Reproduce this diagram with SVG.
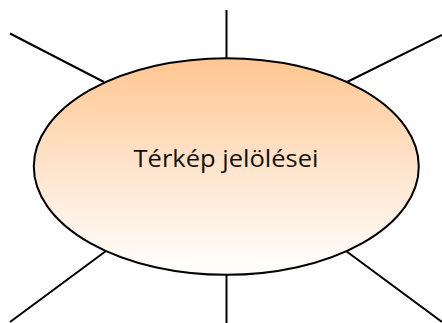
<svg xmlns="http://www.w3.org/2000/svg" width="442" height="323" viewBox="0 0 442 323">
<style>
.ln{stroke:#000;stroke-width:2;fill:none}
.lbl{font-family:"Open Sans","Noto Sans",sans-serif;font-size:24px;fill:#111}
</style>
<defs>
<linearGradient id="g" x1="0" y1="0" x2="0" y2="1">
<stop offset="0" stop-color="#FFC690"/>
<stop offset="0.5" stop-color="#FFE4CC"/>
<stop offset="1" stop-color="#FFFFFF"/>
</linearGradient>
</defs>
<rect width="442" height="323" fill="#fff"/>
<g id="connectors">
<line class="ln" x1="226.5" y1="10" x2="226.5" y2="59"/>
<line class="ln" x1="10" y1="33.5" x2="104" y2="82"/>
<line class="ln" x1="442" y1="35" x2="347" y2="82"/>
<line class="ln" x1="10" y1="322" x2="106" y2="251"/>
<line class="ln" x1="226.5" y1="274" x2="226.5" y2="323"/>
<line class="ln" x1="346" y1="251" x2="442" y2="322"/>
</g>
<g id="center">
<ellipse cx="226.3" cy="166.5" rx="192.5" ry="108.3" fill="url(#g)" stroke="#000" stroke-width="2"/>
<text class="lbl" x="226" y="167" text-anchor="middle" textLength="185" lengthAdjust="spacingAndGlyphs">Térkép jelölései</text>
</g>
</svg>
